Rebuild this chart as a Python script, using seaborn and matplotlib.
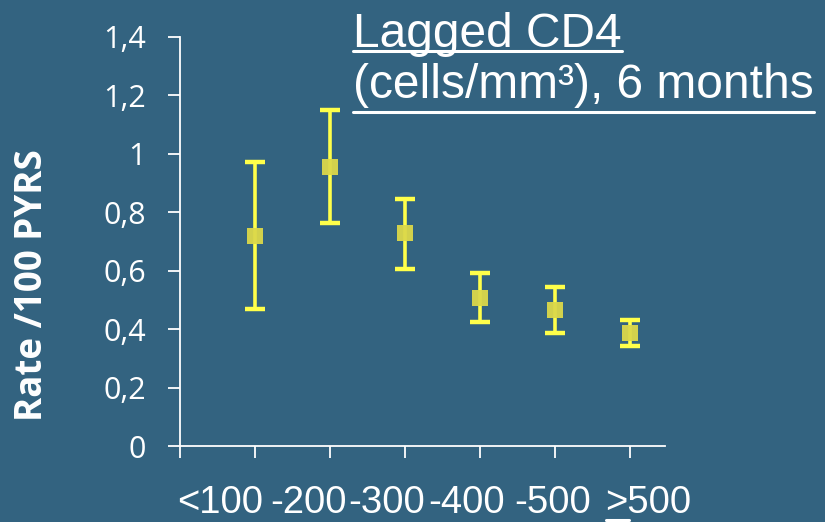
import matplotlib
matplotlib.use("Agg")
import matplotlib.pyplot as plt
from matplotlib.lines import Line2D
import seaborn as sns
import pandas as pd
import numpy as np

# ---- data ----
categories = ["<100", "-200", "-300", "-400", "-500", ">500"]
rate = [0.719, 0.955, 0.729, 0.507, 0.466, 0.387]
ci_low = [0.469, 0.763, 0.606, 0.424, 0.387, 0.342]
ci_high = [0.972, 1.150, 0.846, 0.592, 0.545, 0.431]
yticks = [0, 0.2, 0.4, 0.6, 0.8, 1.0, 1.2, 1.4]
ytick_labels = ["0", "0,2", "0,4", "0,6", "0,8", "1", "1,2", "1,4"]

BG = "#336380"
YEL = "#FFFF4A"
MK = "#DCD84A"
W, H = 825, 522

sns.set_theme(style="white")
plt.rcParams["font.family"] = ["Liberation Sans", "DejaVu Sans"]

fig = plt.figure(figsize=(W / 100, H / 100), dpi=100, facecolor=BG)
ax = fig.add_axes([180 / W, 1 - 446 / H, 485 / W, 409 / H])
ax.set_facecolor(BG)

df = pd.DataFrame({"pos": np.arange(1, len(categories) + 1), "rate": rate,
                   "lo": ci_low, "hi": ci_high, "cat": categories})
yerr = np.vstack([df["rate"] - df["lo"], df["hi"] - df["rate"]])
ax.errorbar(df["pos"], df["rate"], yerr=yerr, fmt="none", ecolor=YEL,
            elinewidth=2.6, capsize=7.5, capthick=3.2, zorder=2)
sns.scatterplot(data=df, x="pos", y="rate", marker="s", s=125, color=MK,
                edgecolor="none", alpha=0.95, ax=ax, zorder=3, legend=False)

ax.set_xlim(0, 6.47)
ax.set_ylim(0, 1.4)
ax.set_xticks(np.arange(0, len(categories) + 1))
ax.set_xticklabels([])
ax.set_yticks(yticks)
ax.set_yticklabels(ytick_labels, fontfamily="Open Sans", fontsize=22, color="white")
ax.set_xlabel("")
ax.set_ylabel("")
for s in ["top", "right"]:
    ax.spines[s].set_visible(False)
for s in ["left", "bottom"]:
    ax.spines[s].set_color("white")
    ax.spines[s].set_linewidth(1.3)
ax.tick_params(axis="both", which="both", direction="out", length=8.5, width=1.3,
               color="white", bottom=True, left=True)
ax.tick_params(axis="y", pad=16)

# y label
fig.text(32 / W, 1 - 285 / H, "Rate /100 PYRS", rotation=90, ha="center", va="center",
         color="white", fontsize=26.5, fontweight="bold", fontfamily="Open Sans")

# x category labels (shifted like the original text box)
centers_px = [220, 309, 387, 467, 553, 648]
xlab_texts = []
for c, lab in zip(centers_px, categories):
    t = fig.text(c / W, 1 - 513 / H, lab, ha="center", va="baseline",
                 color="white", fontsize=27.5)
    xlab_texts.append(t)

# title
t1 = fig.text(353 / W, 1 - 47 / H, "Lagged CD4", ha="left", va="baseline",
              color="white", fontsize=34.5)
t2 = fig.text(353 / W, 1 - 98 / H, "(cells/mm³), 6 months", ha="left", va="baseline",
              color="white", fontsize=34.5)

fig.canvas.draw()
r = fig.canvas.get_renderer()

def underline(t, ypx, lw=2.2, x0=None, x1=None):
    bb = t.get_window_extent(r)
    a = bb.x0 if x0 is None else x0
    b = bb.x1 if x1 is None else x1
    fig.add_artist(Line2D([a / W, b / W], [1 - ypx / H, 1 - ypx / H],
                          transform=fig.transFigure, color="white", lw=lw))

underline(t1, 51)
underline(t2, 112)
# underline ">" of last label
bb = xlab_texts[-1].get_window_extent(r)
gt_w = bb.width * 0.28
underline(xlab_texts[-1], 519.5, lw=2.2, x0=bb.x0 + 1, x1=bb.x0 + gt_w)

fig.savefig("out.png", dpi=100, facecolor=BG)
